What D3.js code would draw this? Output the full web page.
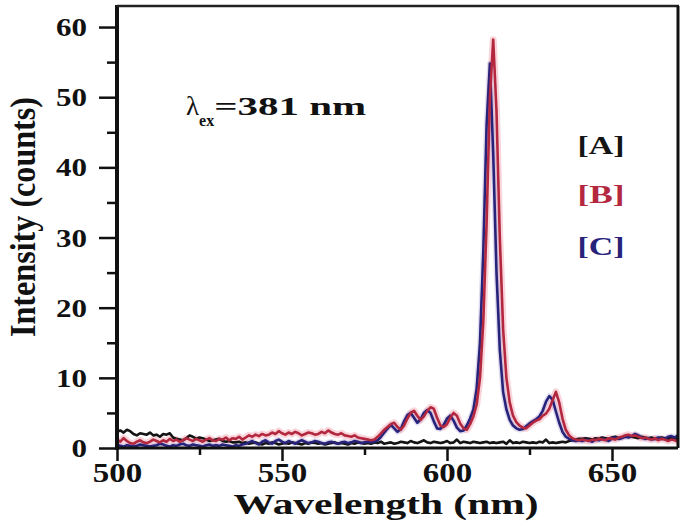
<!DOCTYPE html>
<html><head><meta charset="utf-8">
<script src="https://cdn.jsdelivr.net/npm/d3@7"></script>
<style>body{margin:0;background:#fff}svg{display:block}</style>
</head><body>
<svg id="c" width="685" height="531"></svg>
<script>
// ---- data ----
const wlStart = 500, wlEnd = 670;            // wavelength sampling, 1 nm step
const xTicksMajor = [500, 550, 600, 650];
const xTicksMinor = [525, 575, 625];
const yTicksMajor = [0, 10, 20, 30, 40, 50, 60];
const yTicksMinor = [5, 15, 25, 35, 45, 55];
const seriesNames = ["[A]", "[B]", "[C]"];
const seriesColors = ["#141414", "#b3283f", "#28237a"];

const A = [2.3,2.5,2.2,2.6,2.4,2.0,1.8,2.1,2.0,1.9,2.2,1.8,1.9,1.6,2.0,1.9,2.1,1.5,1.3,1.2,1.1,1.4,1.8,1.6,1.3,1.5,1.4,1.2,1.0,1.1,1.2,1.3,1.0,0.9,1.0,0.8,
 0.8,0.9,0.7,0.8,0.6,0.7,0.8,0.6,0.5,0.7,0.6,0.8,0.7,0.5,0.6,0.7,0.6,0.8,0.7,0.6,0.5,0.7,0.6,0.8,0.7,0.6,0.7,0.5,0.6,0.7,0.8,0.6,0.7,0.6,0.5,0.7,0.6,0.8,0.7,0.6,0.7,0.6,0.8,0.7,0.9,
 0.6,0.7,0.8,0.6,0.7,0.9,0.8,0.7,1.0,0.8,0.7,0.9,1.1,0.8,0.7,0.9,0.8,0.7,0.8,1.0,0.7,0.8,1.2,0.7,0.9,0.8,0.7,0.9,0.8,0.7,0.8,0.9,0.7,0.8,0.7,0.8,0.9,0.6,1.1,0.7,0.8,0.7,0.9,0.8,0.7,0.8,0.7,0.9,0.8,1.2,0.7,0.8,0.7,0.8,0.9,0.8,1.0,1.1,1.2,1.3,
 1.3,1.4,1.3,1.2,1.4,1.3,1.5,1.4,1.3,1.5,1.6,1.4,1.5,1.7,1.8,1.6,1.5,1.4,1.6,1.5,1.4,1.5,1.3,1.4,1.5,1.4,1.3,1.5,1.4,1.3];

const B = [1.2,0.9,1.4,1.0,0.7,0.6,0.9,1.1,0.8,0.7,0.9,1.2,1.0,0.8,1.1,0.9,1.3,1.0,1.2,0.9,1.1,1.4,1.2,1.0,1.3,1.1,0.9,1.2,1.4,1.1,1.0,1.3,1.2,1.5,1.1,1.4,1.3,1.6,1.2,1.5,1.8,
 1.6,1.9,1.7,2.0,1.8,1.9,2.2,2.0,2.4,2.1,1.9,2.2,2.0,2.3,2.1,1.8,2.0,2.2,2.1,1.9,2.0,2.3,2.1,2.5,2.2,2.0,1.9,2.1,1.8,1.7,1.6,1.8,1.5,1.4,1.3,1.2,1.1,1.2,
 1.6,2.1,2.6,3.0,3.4,3.6,3.0,2.6,3.2,4.2,5.0,5.3,4.6,4.0,4.5,5.3,5.8,5.6,4.3,3.2,3.0,3.4,4.3,5.0,4.6,3.5,2.8,2.6,3.4,4.5,6.2,10,18,32,50,58.2,48,30,17,10,6.5,4.6,3.7,3.2,2.9,2.8,3.2,3.6,3.9,4.1,4.6,4.9,5.6,6.8,8.0,6.5,4.2,2.6,1.8,1.4,1.2,1.1,
 1.2,1.1,1.0,1.2,1.1,1.3,1.2,1.1,1.4,1.3,1.2,1.5,1.6,1.8,1.9,1.7,1.8,1.6,1.4,1.5,1.3,1.2,1.4,1.1,1.3,1.2,1.0,1.2,1.1,0.9];

const C = [0.5,0.3,0.2,0.4,0.3,0.2,0.3,0.5,0.4,0.3,0.2,0.3,0.4,0.6,0.5,0.3,0.2,0.4,0.3,0.5,0.6,0.4,0.3,0.5,0.4,0.3,0.2,0.4,0.5,0.3,0.4,0.3,0.5,0.4,0.3,0.2,0.4,0.3,0.5,0.6,0.8,
 1.0,0.7,0.5,0.9,1.1,0.8,0.6,1.0,1.2,0.9,0.7,1.0,0.8,0.6,0.9,1.1,0.9,0.7,0.8,1.0,0.9,0.7,0.6,0.8,0.9,0.7,0.6,0.8,0.9,0.7,0.8,1.0,0.9,0.7,0.8,0.9,0.8,0.9,
 1.1,1.6,2.2,2.8,3.3,2.8,2.3,2.7,3.8,4.7,5.0,4.3,3.6,4.1,5.0,5.4,5.0,3.8,2.8,2.7,3.3,4.2,4.6,3.9,2.9,2.4,2.5,3.2,4.2,5.5,8.5,15,28,46,54.8,42,25,14,8,5.5,4.0,3.2,2.8,2.6,2.7,3.1,3.5,3.8,4.1,4.5,5.3,6.6,7.4,6.9,5.2,3.6,2.3,1.6,1.3,1.1,1.0,1.1,
 1.0,1.2,1.1,0.9,1.2,1.1,1.3,1.2,1.0,1.4,1.5,1.3,1.4,1.6,1.5,1.7,2.0,1.8,1.5,1.3,1.4,1.2,1.3,1.5,1.4,1.3,1.6,1.7,1.5,1.8];

// ---- drawing ----
const svg = d3.select("#c");
const L = 117, R = 678, T = 6, Bt = 448;
const x = d3.scaleLinear().domain([wlStart, wlEnd]).range([L, R]);
const y = d3.scaleLinear().domain([0, 63]).range([Bt, T]);
const serif = "'Liberation Serif','Times New Roman',serif";

svg.append("defs").append("clipPath").attr("id","clip")
  .append("rect").attr("x",L).attr("y",T).attr("width",R-L).attr("height",Bt-T);

const line = d3.line().x((d,i)=>x(wlStart+i)).y(d=>y(d));
const g = svg.append("g").attr("clip-path","url(#clip)");
// halos
g.append("path").datum(B).attr("d",line).attr("fill","none").attr("stroke","#f2a0b0").attr("stroke-width",7).attr("opacity",0.45).attr("stroke-linejoin","round");
g.append("path").datum(C).attr("d",line).attr("fill","none").attr("stroke","#a79ad0").attr("stroke-width",5.5).attr("opacity",0.35).attr("stroke-linejoin","round");
[A, C, B].forEach((s, k) => {
  const idx = [0,2,1][k];
  g.append("path").datum(s).attr("d",line).attr("fill","none")
    .attr("stroke",seriesColors[idx]).attr("stroke-width",2.6).attr("stroke-linejoin","round");
});

// axes
const xAxis = svg.append("g").attr("transform",`translate(0,${Bt})`)
  .call(d3.axisBottom(x).tickValues(xTicksMajor).tickSize(13).tickSizeOuter(0).tickFormat(d3.format("d")));
svg.append("g").attr("transform",`translate(0,${Bt})`)
  .call(d3.axisBottom(x).tickValues(xTicksMinor).tickSize(7).tickSizeOuter(0).tickFormat(""))
  .call(g=>g.select(".domain").remove());
const yAxis = svg.append("g").attr("transform",`translate(${L},0)`)
  .call(d3.axisLeft(y).tickValues(yTicksMajor).tickSize(18).tickSizeOuter(0).tickFormat(d3.format("d")));
svg.append("g").attr("transform",`translate(${L},0)`)
  .call(d3.axisLeft(y).tickValues(yTicksMinor).tickSize(10).tickSizeOuter(0).tickFormat(""))
  .call(g=>g.select(".domain").remove());
svg.selectAll(".tick line").attr("stroke","#111").attr("stroke-width",2.5);
svg.selectAll(".domain").attr("stroke","none");

xAxis.selectAll(".tick text").attr("font-family",serif).attr("font-weight","bold").attr("font-size",27)
  .attr("fill","#111").attr("dy",0).attr("y",34)
  .attr("textLength",d=>String(d).length*16.5).attr("lengthAdjust","spacingAndGlyphs");
yAxis.selectAll(".tick text").attr("font-family",serif).attr("font-weight","bold").attr("font-size",25)
  .attr("fill","#111").attr("x",-30).attr("dy","0.34em")
  .attr("textLength",d=>String(d).length*15.5).attr("lengthAdjust","spacingAndGlyphs");

// frame
svg.append("line").attr("x1",L).attr("x2",L).attr("y1",T-1).attr("y2",Bt+2).attr("stroke","#111").attr("stroke-width",4);
svg.append("line").attr("x1",L).attr("x2",R).attr("y1",Bt).attr("y2",Bt).attr("stroke","#111").attr("stroke-width",3);
svg.append("line").attr("x1",L).attr("x2",R+1).attr("y1",T).attr("y2",T).attr("stroke","#222").attr("stroke-width",2.5);
svg.append("line").attr("x1",R).attr("x2",R).attr("y1",T).attr("y2",Bt).attr("stroke","#111").attr("stroke-width",3);

// axis titles
svg.append("text").attr("x",386).attr("y",514).attr("text-anchor","middle")
  .attr("font-family",serif).attr("font-weight","bold").attr("font-size",30).attr("fill","#111")
  .attr("textLength",305).attr("lengthAdjust","spacingAndGlyphs").text("Wavelength (nm)");
svg.append("text").attr("transform","translate(35,217) rotate(-90)").attr("text-anchor","middle")
  .attr("font-family",serif).attr("font-weight","bold").attr("font-size",36).attr("fill","#111")
  .attr("textLength",240).attr("lengthAdjust","spacingAndGlyphs").text("Intensity (counts)");

// excitation annotation
const ann = svg.append("text").attr("x",186).attr("y",115).attr("font-family",serif).attr("font-weight","bold").attr("fill","#111");
ann.append("tspan").attr("font-size",27).attr("font-weight","normal").text("λ");
ann.append("tspan").attr("font-size",16).attr("dy",11).text("ex");
ann.append("tspan").attr("font-size",26).attr("dy",-11).attr("textLength",152).attr("lengthAdjust","spacingAndGlyphs").text("=381 nm");

// legend labels
const legY = [154, 203, 255];
seriesNames.forEach((n,i)=>{
  svg.append("text").attr("x",601).attr("y",legY[i]).attr("text-anchor","middle")
    .attr("font-family",serif).attr("font-weight","bold").attr("font-size",25)
    .attr("fill",seriesColors[i]).attr("textLength",47).attr("lengthAdjust","spacingAndGlyphs").text(n);
});
</script>
</body></html>
